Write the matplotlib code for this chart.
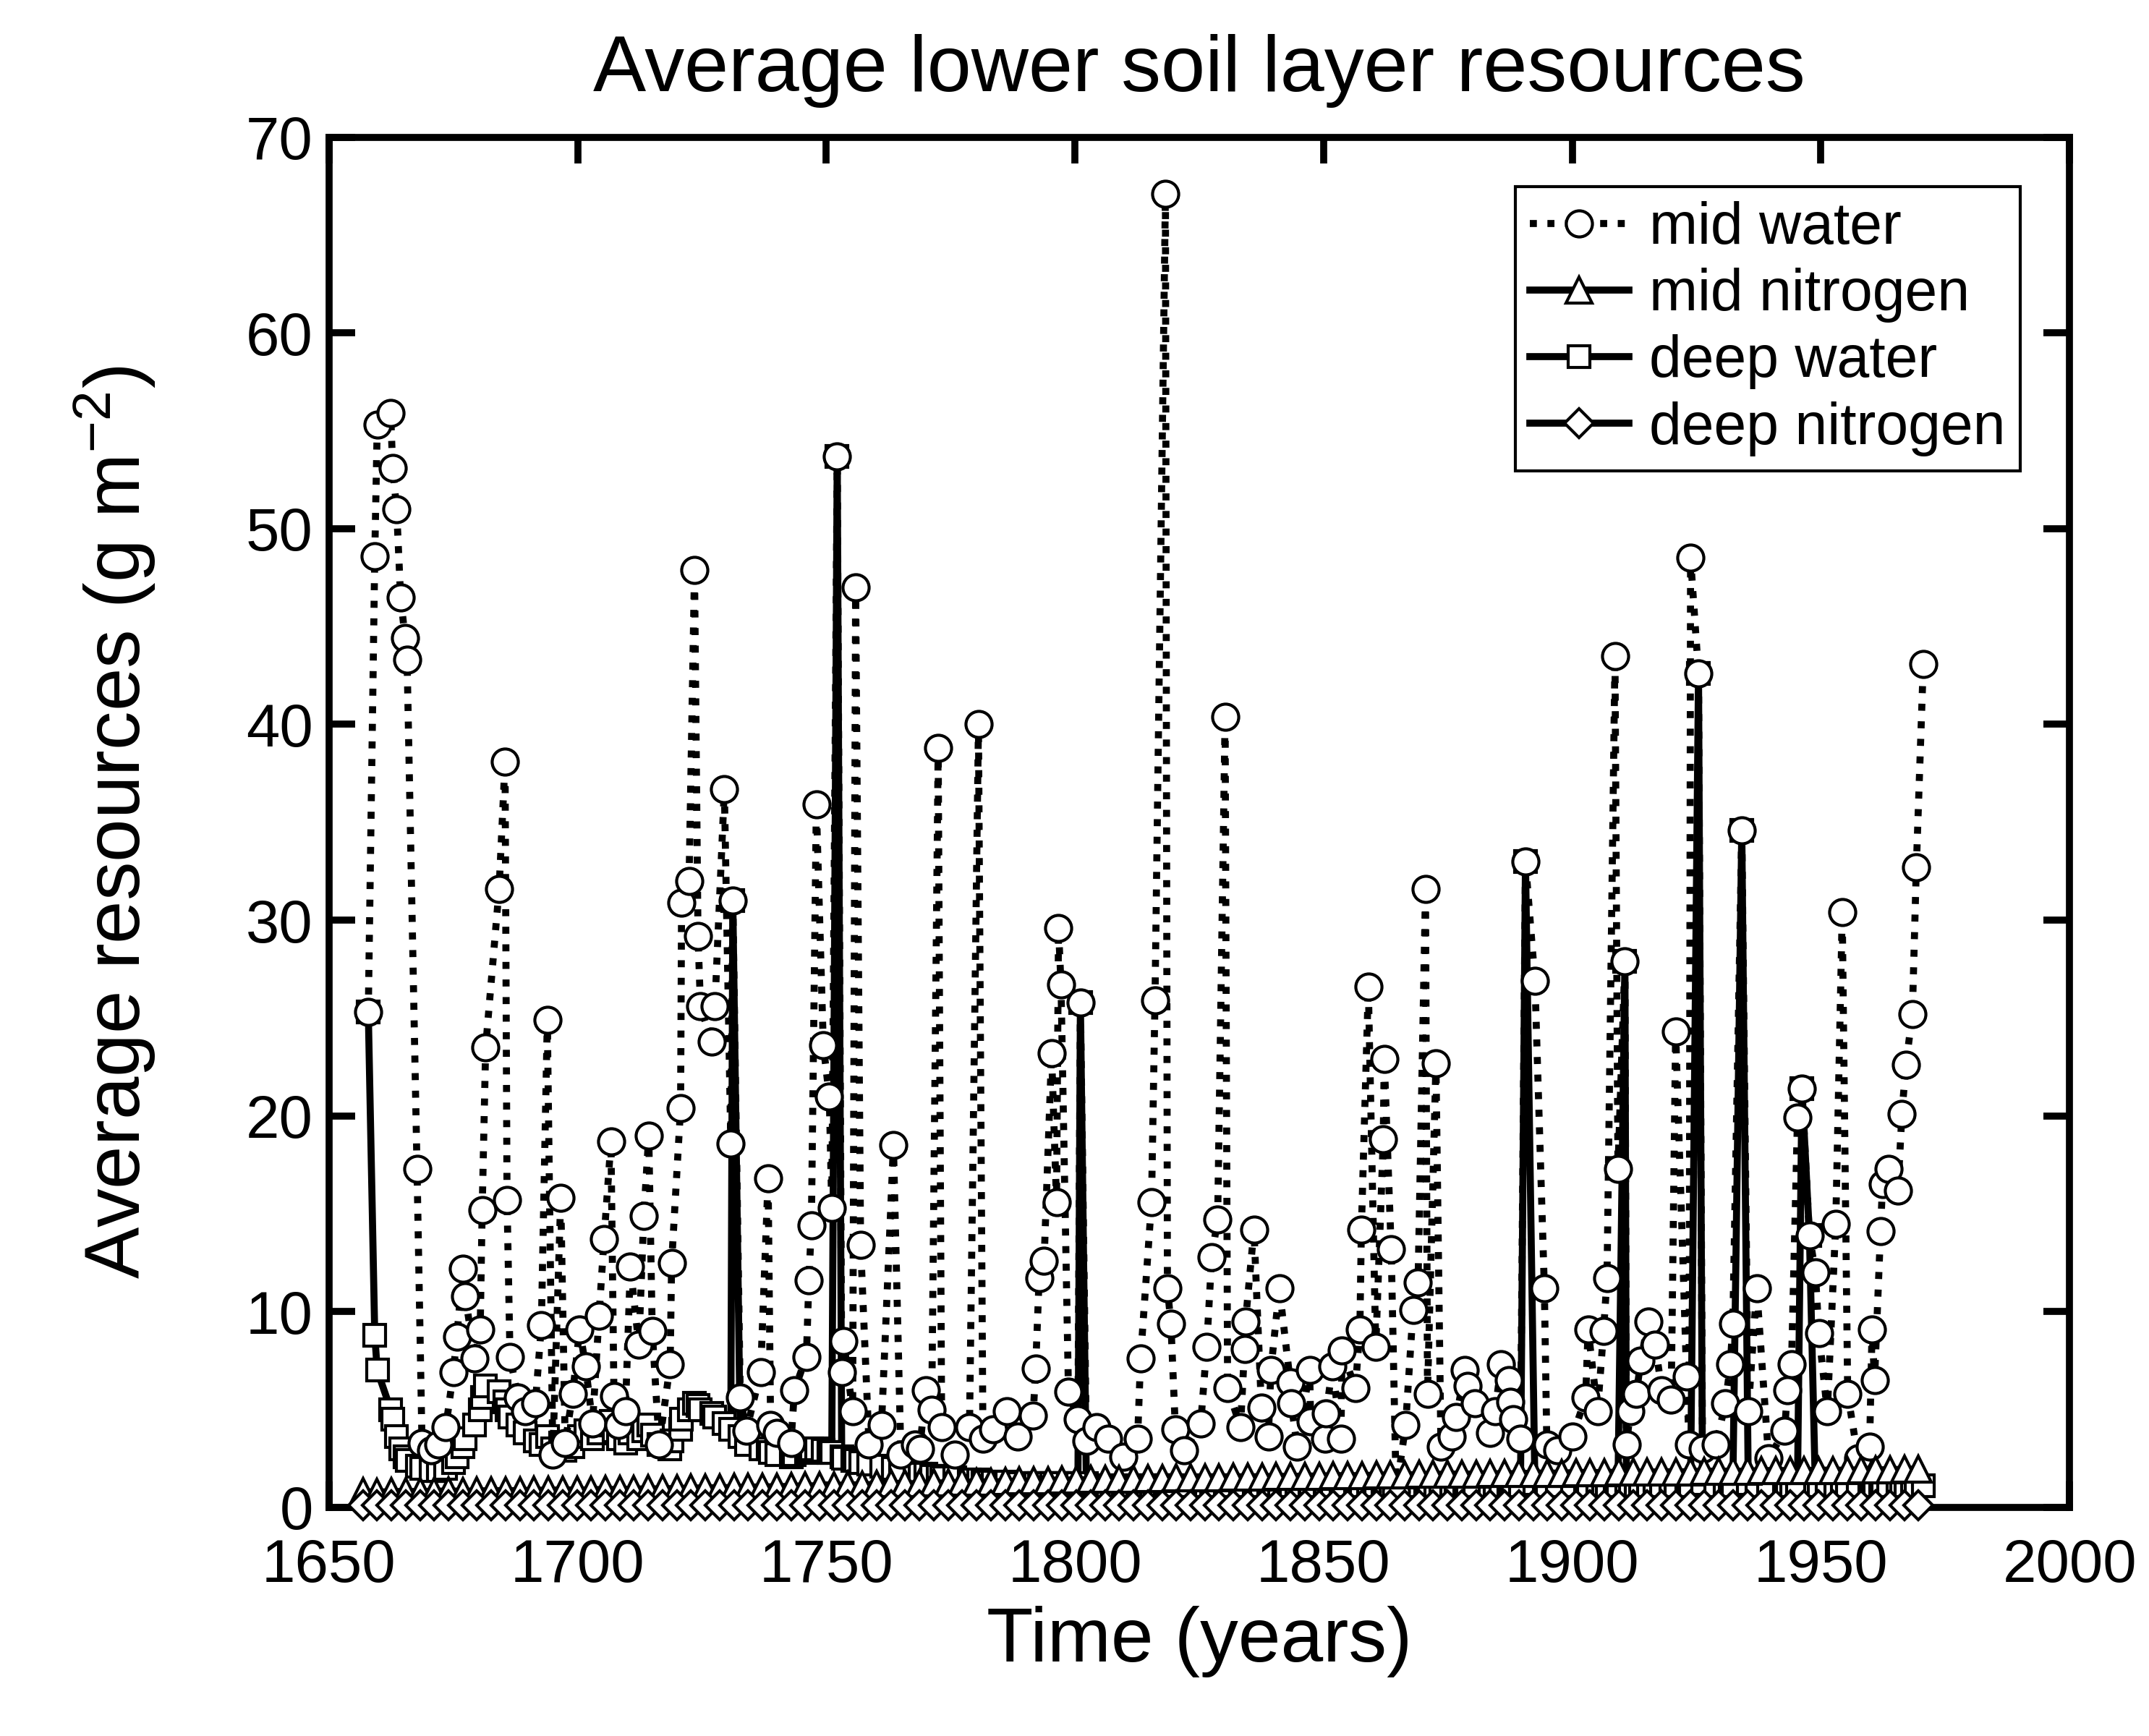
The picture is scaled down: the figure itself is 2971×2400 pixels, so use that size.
import matplotlib
matplotlib.use("Agg")  # no display in the sandbox
import matplotlib.pyplot as plt
import numpy as np

plt.rcParams["font.family"] = ["Liberation Sans", "DejaVu Sans"]
plt.rcParams["mathtext.default"] = "regular"

# sample times of the water series (years)
mid_years = [
    1657.9, 1659.2, 1659.7, 1662.4, 1662.8, 1663.6, 1664.4, 1665.3, 1665.7, 1667.7,
    1668.7, 1670.5, 1672.0, 1673.5, 1675.0, 1675.7, 1676.9, 1677.4, 1679.3, 1680.4,
    1680.8, 1681.5, 1684.2, 1685.4, 1685.8, 1686.4, 1688.0, 1689.5, 1691.5, 1692.7,
    1693.9, 1695.0, 1696.6, 1697.5, 1699.0, 1700.4, 1701.6, 1703.0, 1704.3, 1705.3,
    1706.7, 1707.3, 1708.2, 1709.6, 1710.6, 1712.3, 1713.3, 1714.3, 1715.0, 1716.4,
    1718.6, 1718.9, 1720.7, 1720.9, 1722.4, 1723.5, 1724.2, 1724.7, 1726.9, 1727.6,
    1729.5, 1730.8, 1731.2, 1732.7, 1733.9, 1736.8, 1738.3, 1738.8, 1740.0, 1742.9,
    1743.6, 1746.0, 1746.5, 1747.0, 1748.0, 1749.4, 1750.6, 1751.1, 1752.2, 1753.1,
    1753.5, 1755.3, 1755.9, 1756.9, 1758.6, 1761.1, 1763.5, 1765.0, 1767.9, 1768.8,
    1770.0, 1771.2, 1772.5, 1773.2, 1775.8, 1778.8, 1780.6, 1781.5, 1783.6, 1786.3,
    1788.5, 1791.6, 1792.1, 1792.8, 1793.8, 1795.3, 1796.3, 1796.7, 1797.2, 1798.7,
    1800.6, 1801.1, 1802.3, 1804.3, 1806.7, 1809.8, 1812.6, 1813.2, 1815.4, 1816.1,
    1818.2, 1818.6, 1819.3, 1820.2, 1822.0, 1825.3, 1826.5, 1827.5, 1828.7, 1830.2,
    1830.7, 1833.3, 1834.1, 1834.3, 1836.0, 1837.5, 1838.9, 1839.4, 1841.1, 1843.3,
    1843.5, 1844.7, 1847.2, 1847.4, 1850.3, 1850.5, 1851.8, 1853.5, 1853.7, 1856.4,
    1857.3, 1857.6, 1859.0, 1860.5, 1862.0, 1862.2, 1863.6, 1864.6, 1866.5, 1868.0,
    1869.0, 1870.5, 1870.9, 1872.6, 1873.6, 1875.8, 1876.7, 1878.4, 1878.9, 1880.4,
    1883.5, 1884.5, 1885.7, 1887.2, 1887.6, 1888.2, 1889.6, 1890.6, 1892.5, 1894.4,
    1894.9, 1897.0, 1900.0, 1902.7, 1903.2, 1905.1, 1906.3, 1907.0, 1908.6, 1909.2,
    1910.6, 1910.9, 1911.7, 1912.9, 1913.8, 1915.3, 1916.7, 1918.0, 1919.9, 1920.8,
    1923.0, 1923.5, 1923.8, 1925.4, 1926.2, 1928.9, 1930.8, 1931.8, 1932.3, 1934.1,
    1935.4, 1937.1, 1939.5, 1942.7, 1943.3, 1944.1, 1945.3, 1946.2, 1947.7, 1948.9,
    1949.6, 1951.3, 1953.0, 1954.3, 1955.4, 1957.5, 1959.8, 1960.3, 1960.8, 1962.0,
    1962.4, 1963.6, 1965.5, 1966.3, 1967.1, 1968.4, 1969.2, 1970.6,
]

mid_water = [
    25.3, 48.6, 55.3, 55.9, 53.1, 51.0, 46.5, 44.4, 43.3, 17.3,
    3.3, 2.9, 3.2, 4.1, 6.9, 8.7, 12.2, 10.8, 7.6, 9.1,
    15.2, 23.5, 31.6, 38.1, 15.7, 7.7, 5.6, 4.9, 5.3, 9.3,
    24.9, 2.7, 15.8, 3.3, 5.8, 9.1, 7.2, 4.3, 9.8, 13.7,
    18.7, 5.7, 4.2, 4.9, 12.3, 8.3, 14.9, 19.0, 9.0, 3.2,
    7.3, 12.5, 20.4, 30.9, 32.0, 47.9, 29.2, 25.6, 23.8, 25.6,
    36.7, 18.6, 31.0, 5.6, 3.9, 6.9, 16.8, 4.2, 3.8, 3.3,
    6.0, 7.7, 11.6, 14.4, 35.9, 23.6, 21.0, 15.3, 53.7, 6.9,
    8.5, 4.9, 47.0, 13.4, 3.2, 4.2, 18.5, 2.7, 3.2, 3.0,
    6.0, 5.0, 38.8, 4.1, 2.7, 4.1, 40.0, 3.5, 4.0, 4.9,
    3.6, 4.7, 7.1, 11.7, 12.6, 23.2, 15.6, 29.6, 26.7, 5.9,
    4.5, 25.8, 3.4, 4.1, 3.5, 2.6, 3.5, 7.6, 15.6, 25.9,
    67.1, 11.2, 9.4, 4.0, 2.9, 4.3, 8.2, 12.8, 14.7, 40.4,
    6.1, 4.1, 8.1, 9.5, 14.2, 5.1, 3.6, 7.0, 11.2, 6.4,
    5.3, 3.1, 7.0, 4.4, 3.5, 4.8, 7.2, 3.5, 8.0, 6.1,
    9.1, 14.2, 26.6, 8.2, 18.8, 22.9, 13.2, 0.8, 4.2, 10.1,
    11.5, 31.6, 5.8, 22.7, 3.1, 3.6, 4.6, 7.0, 6.2, 5.3,
    3.8, 4.9, 7.3, 6.5, 5.4, 4.5, 3.5, 33.0, 26.9, 11.2,
    3.2, 2.9, 3.6, 5.6, 9.1, 4.9, 9.0, 11.7, 43.5, 17.3,
    27.9, 3.2, 4.9, 5.8, 7.5, 9.5, 8.3, 6.0, 5.5, 24.3,
    6.7, 3.2, 48.5, 42.6, 3.0, 3.2, 5.3, 7.3, 9.4, 34.6,
    4.9, 11.2, 2.5, 3.9, 6.0, 7.3, 19.9, 21.4, 13.9, 12.0,
    8.9, 4.9, 14.5, 30.4, 5.8, 2.5, 3.1, 9.1, 6.5, 14.1,
    16.5, 17.3, 16.2, 20.1, 22.6, 25.2, 32.7, 43.1,
]

deep_water = [
    25.3, 8.8, 7.0, 5.0, 4.5, 3.6, 3.0, 2.6, 2.4, 2.1,
    2.0, 1.9, 1.9, 2.0, 2.3, 2.6, 3.1, 3.5, 4.2, 5.0,
    5.6, 6.2, 5.9, 5.4, 5.0, 4.6, 4.2, 3.8, 3.4, 3.2,
    3.6, 3.0, 3.3, 2.9, 3.1, 3.6, 3.9, 3.5, 3.8, 4.2,
    4.4, 3.9, 3.5, 3.3, 3.8, 3.5, 3.9, 4.2, 3.7, 3.2,
    3.0, 3.4, 4.0, 4.5, 5.0, 5.3, 5.2, 5.0, 4.8, 4.6,
    4.3, 4.0, 31.0, 3.6, 3.2, 3.0, 3.0, 2.8, 2.7, 2.6,
    2.7, 2.8, 2.9, 3.0, 3.0, 2.9, 2.8, 2.8, 53.7, 2.6,
    2.5, 2.4, 2.4, 2.3, 2.2, 2.1, 2.0, 1.9, 1.8, 1.7,
    1.7, 1.6, 1.6, 1.5, 1.5, 1.4, 1.4, 1.3, 1.3, 1.3,
    1.2, 1.2, 1.2, 1.2, 1.2, 1.2, 1.2, 1.2, 1.2, 1.2,
    1.2, 25.8, 1.2, 1.1, 1.1, 1.1, 1.1, 1.1, 1.1, 1.1,
    1.1, 1.1, 1.1, 1.1, 1.1, 1.1, 1.1, 1.1, 1.1, 1.1,
    1.1, 1.1, 1.1, 1.1, 1.1, 1.1, 1.1, 1.1, 1.1, 1.1,
    1.1, 1.1, 1.1, 1.1, 1.1, 1.1, 1.1, 1.1, 1.1, 1.1,
    1.1, 1.1, 1.1, 1.1, 1.1, 1.1, 1.1, 1.1, 1.1, 1.1,
    1.1, 1.1, 1.1, 1.1, 1.1, 1.1, 1.1, 1.1, 1.1, 1.1,
    1.1, 1.1, 1.1, 1.1, 1.1, 1.1, 1.1, 33.0, 1.2, 1.1,
    1.1, 1.1, 1.1, 1.1, 1.1, 1.1, 1.1, 1.1, 1.1, 1.1,
    27.9, 1.2, 1.1, 1.1, 1.1, 1.1, 1.1, 1.1, 1.1, 1.1,
    1.1, 1.1, 1.1, 42.6, 1.2, 1.1, 1.1, 1.1, 1.1, 34.6,
    1.2, 1.1, 1.1, 1.1, 1.1, 1.1, 1.1, 21.4, 13.9, 1.0,
    1.1, 1.1, 1.1, 1.1, 1.1, 1.1, 1.1, 1.1, 1.1, 1.1,
    1.1, 1.1, 1.1, 1.1, 1.1, 1.1, 1.1, 1.1,
]

# nitrogen series are sampled on a coarser regular step
nitro_start = 1656.8
nitro_step = 2.87

mid_nitrogen = [
    0.80, 0.78, 0.80, 0.82, 0.80, 0.82, 0.84, 0.82, 0.84, 0.85,
    0.86, 0.85, 0.88, 0.87, 0.90, 0.88, 0.90, 0.92, 0.91, 0.93,
    0.95, 0.94, 0.97, 0.98, 1.00, 1.00, 1.02, 1.03, 1.05, 1.05,
    1.08, 1.10, 1.10, 1.12, 1.15, 1.15, 1.18, 1.20, 1.20, 1.22,
    1.25, 1.25, 1.28, 1.30, 1.30, 1.32, 1.35, 1.35, 1.38, 1.40,
    1.40, 1.42, 1.42, 1.45, 1.45, 1.48, 1.48, 1.50, 1.50, 1.52,
    1.52, 1.55, 1.55, 1.55, 1.58, 1.58, 1.60, 1.60, 1.62, 1.62,
    1.62, 1.65, 1.65, 1.65, 1.68, 1.68, 1.70, 1.70, 1.70, 1.72,
    1.72, 1.72, 1.75, 1.75, 1.75, 1.78, 1.78, 1.78, 1.80, 1.80,
    1.80, 1.82, 1.82, 1.82, 1.85, 1.85, 1.85, 1.85, 1.88, 1.88,
    1.88, 1.88, 1.90, 1.90, 1.90, 1.92, 1.92, 1.92, 1.95, 1.95,
]

deep_nitrogen = [
    0.10, 0.10, 0.10, 0.11, 0.10, 0.10, 0.11, 0.10, 0.10, 0.11,
    0.10, 0.10, 0.11, 0.10, 0.10, 0.11, 0.10, 0.10, 0.11, 0.10,
    0.10, 0.11, 0.10, 0.10, 0.11, 0.10, 0.10, 0.11, 0.10, 0.10,
    0.11, 0.10, 0.10, 0.11, 0.10, 0.10, 0.11, 0.10, 0.10, 0.11,
    0.10, 0.10, 0.11, 0.10, 0.10, 0.11, 0.10, 0.10, 0.11, 0.10,
    0.10, 0.11, 0.10, 0.10, 0.11, 0.10, 0.10, 0.11, 0.10, 0.10,
    0.11, 0.10, 0.10, 0.11, 0.10, 0.10, 0.11, 0.10, 0.10, 0.11,
    0.10, 0.10, 0.11, 0.10, 0.10, 0.11, 0.10, 0.10, 0.11, 0.10,
    0.10, 0.11, 0.10, 0.10, 0.11, 0.10, 0.10, 0.11, 0.10, 0.10,
    0.11, 0.10, 0.10, 0.11, 0.10, 0.10, 0.11, 0.10, 0.10, 0.11,
    0.10, 0.10, 0.11, 0.10, 0.10, 0.11, 0.10, 0.10, 0.11, 0.12,
]

nitro_years = nitro_start + nitro_step * np.arange(len(mid_nitrogen))

fig = plt.figure(figsize=(29.71, 24.0), dpi=100)
ax = fig.add_axes([0.1531, 0.1317, 0.8099, 0.7893])

LW = 7
MEW = 3
common = dict(color="k", lw=LW, mfc="w", mec="k", mew=MEW)

h_deep_w, = ax.plot(mid_years, deep_water, ls="-", marker="s", ms=22,
                    zorder=3, label="deep water", **common)
h_mid_w, = ax.plot(mid_years, mid_water, ls=(0, (1.0, 1.5)), marker="o", ms=26,
                   zorder=4, label="mid water", **common)
h_mid_n, = ax.plot(nitro_years, mid_nitrogen, ls="-", marker="^", ms=26,
                   zorder=5, clip_on=False, label="mid nitrogen", **common)
h_deep_n, = ax.plot(nitro_years, deep_nitrogen, ls="-", marker="D", ms=20,
                    zorder=6, clip_on=False, label="deep nitrogen", **common)

ax.set_xlim(1650, 2000)
ax.set_ylim(0, 70)
ax.set_xticks(np.arange(1650, 2001, 50))
ax.set_yticks(np.arange(0, 71, 10))

for s in ax.spines.values():
    s.set_linewidth(7)
    s.set_zorder(2.5)
ax.tick_params(direction="in", top=True, right=True, length=26, width=7,
               labelsize=60)
ax.tick_params(axis="x", pad=30)
ax.tick_params(axis="y", pad=16)

ax.set_title("Average lower soil layer resources", fontsize=79, pad=46)
ax.set_xlabel("Time (years)", fontsize=76, labelpad=12)
ax.set_ylabel("Average resources (g m$^{-2}$)", fontsize=77, labelpad=88)

leg = ax.legend(handles=[h_mid_w, h_mid_n, h_deep_w, h_deep_n],
                loc="upper right", fontsize=58, frameon=True, fancybox=False,
                framealpha=1, edgecolor="k", handlelength=1.7,
                handletextpad=0.35, labelspacing=0.2, borderpad=0.25,
                borderaxespad=0.85, numpoints=1)
leg.get_frame().set_linewidth(3)
leg.set_zorder(10)

fig.savefig("out.png", dpi=100)
